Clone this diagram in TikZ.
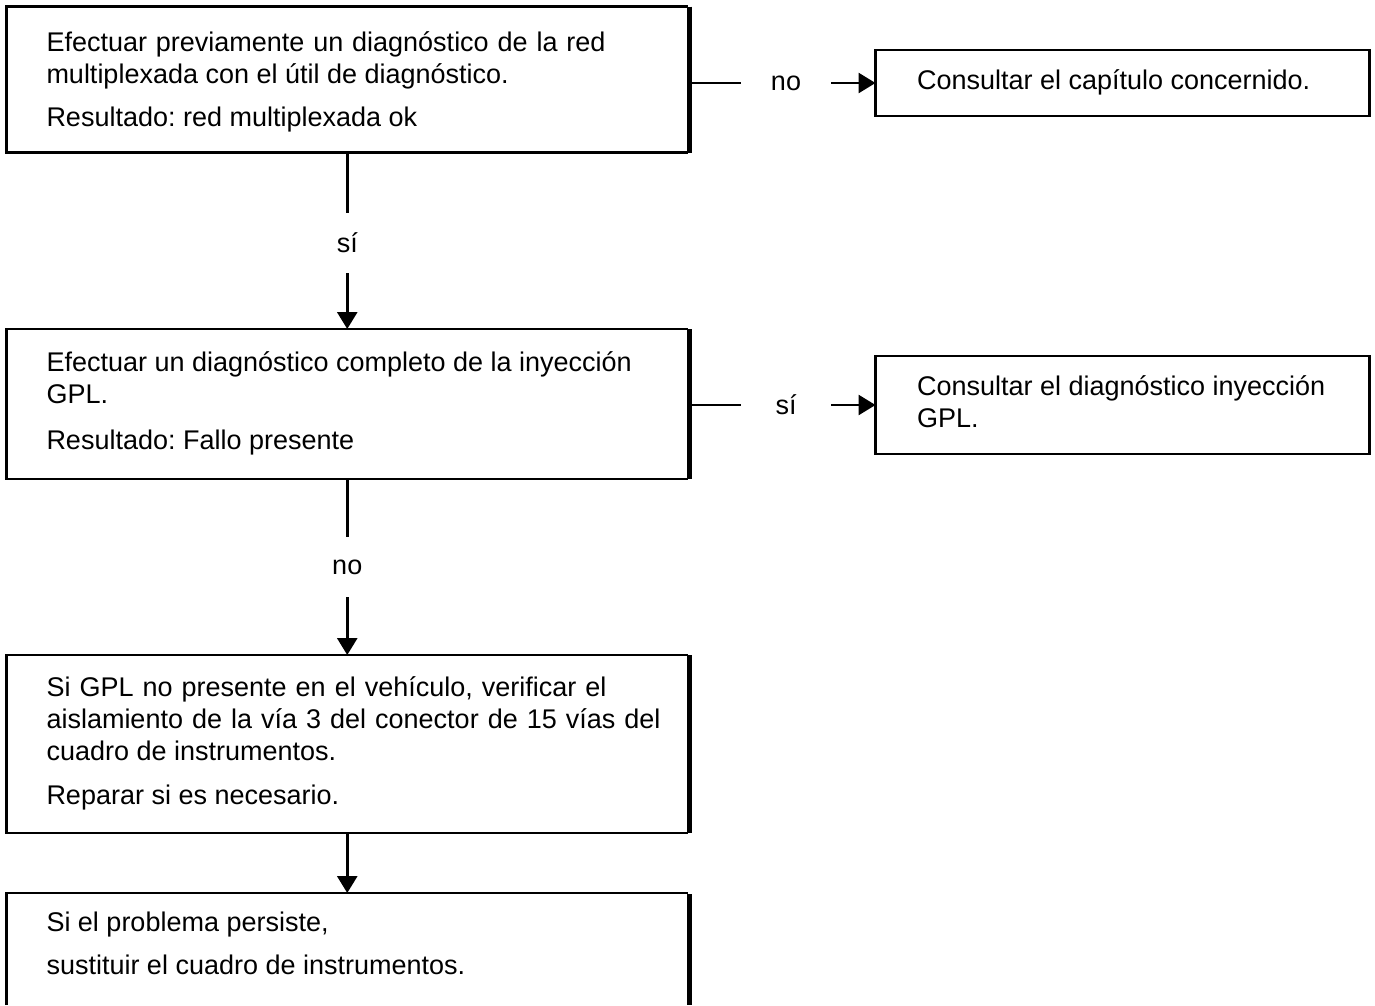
\documentclass[tikz,border=0pt]{standalone}
\usepackage{fontspec}
\setmainfont{Liberation Sans}
\usetikzlibrary{arrows.meta}
\frenchspacing
\newcommand\boxtext[3][0pt]{\raisebox{#1}[\height][\depth]{\makebox[#2][l]{\begin{tabular}{@{}l@{}}#3\end{tabular}}}}
\newcommand\fitline[2]{\makebox[#1][s]{#2}}
\begin{document}
\begin{tikzpicture}[x=1pt,y=-1pt,
  every node/.style={font=\fontsize{27}{32}\selectfont, outer sep=0pt},
  mainbox/.style={anchor=north west, inner xsep=40pt, inner ysep=0pt},
  sidebox/.style={draw, line width=2.6pt, anchor=north west, inner xsep=41.5pt, inner ysep=0pt},
  bord/.style={line width=2.6pt},
  thickedge/.style={line width=5pt},
  conn/.style={line width=2.8pt},
  arr/.style={line width=2.8pt, -{Triangle[width=20pt,length=17pt]}},
  vlbl/.style={inner sep=0pt, minimum height=60pt},
  hlbl/.style={inner sep=0pt, minimum width=90pt}]
\useasboundingbox (0,0) rectangle (1375,1005);

% main boxes
\node[mainbox, minimum height=146pt] (b1) at (6.5,6.5)
  {\boxtext[-3pt]{601.5pt}{\fitline{559pt}{Efectuar previamente un diagnóstico de la red}\\
   multiplexada con el útil de diagnóstico.\\[11pt]
   Resultado: red multiplexada ok}};
\node[mainbox, minimum height=150pt] (b2) at (6.5,329)
  {\boxtext{601.5pt}{Efectuar un diagnóstico completo de la inyección\\
   GPL.\\[14pt]
   Resultado: Fallo presente}};
\node[mainbox, minimum height=178pt] (b3) at (6.5,655)
  {\boxtext{601.5pt}{\fitline{560pt}{Si GPL no presente en el vehículo, verificar el}\\
   \fitline{614pt}{aislamiento de la vía 3 del conector de 15 vías del}\\
   cuadro de instrumentos.\\[12pt]
   Reparar si es necesario.}};
\node[mainbox, inner ysep=16pt] (b4) at (6.5,893)
  {\boxtext{601.5pt}{Si el problema persiste,\\[11pt]
   sustituir el cuadro de instrumentos.}};
\coordinate (pagebottom) at (0,1005);

\foreach \b in {b1,b2,b3}{
  \draw[bord] (\b.north east) -- (\b.north west) -- (\b.south west) -- (\b.south east);
  \draw[thickedge] ([xshift=1.2pt]\b.north east) -- ([xshift=1.2pt]\b.south east);
}
\draw[bord] (b4.north west |- pagebottom) -- (b4.north west) -- (b4.north east);
\draw[thickedge] ([xshift=1.2pt,yshift=-1pt]b4.north east) -- ([xshift=1.2pt]b4.north east |- pagebottom);

% side boxes
\node[sidebox, minimum height=66pt] (r1) at (875.5,50)
  {\boxtext{411pt}{Consultar el capítulo concernido.}};
\node[sidebox, minimum height=98pt] (r2) at (875.5,356)
  {\boxtext{411pt}{Consultar el diagnóstico inyección\\GPL.}};

% labels
\node[hlbl] (l1) at (786,83) {no};
\node[hlbl] (l3) at (786,405) {sí};
\node[vlbl] (l2) at (b1.south |- 0,243) {sí};
\node[vlbl] (l4) at (b2.south |- 0,567) {no};

% connectors
\draw[conn] (b1.east |- l1) -- (l1.west);
\draw[arr] (l1.east) -- (l1.east -| r1.west);
\draw[conn] (b2.east |- l3) -- (l3.west);
\draw[arr] (l3.east) -- (l3.east -| r2.west);
\draw[conn] (b1.south) -- (l2.north);
\draw[arr] (l2.south) -- (b2.north);
\draw[conn] (b2.south) -- (l4.north);
\draw[arr] (l4.south) -- (b3.north);
\draw[arr] (b3.south) -- (b4.north);
\end{tikzpicture}
\end{document}
